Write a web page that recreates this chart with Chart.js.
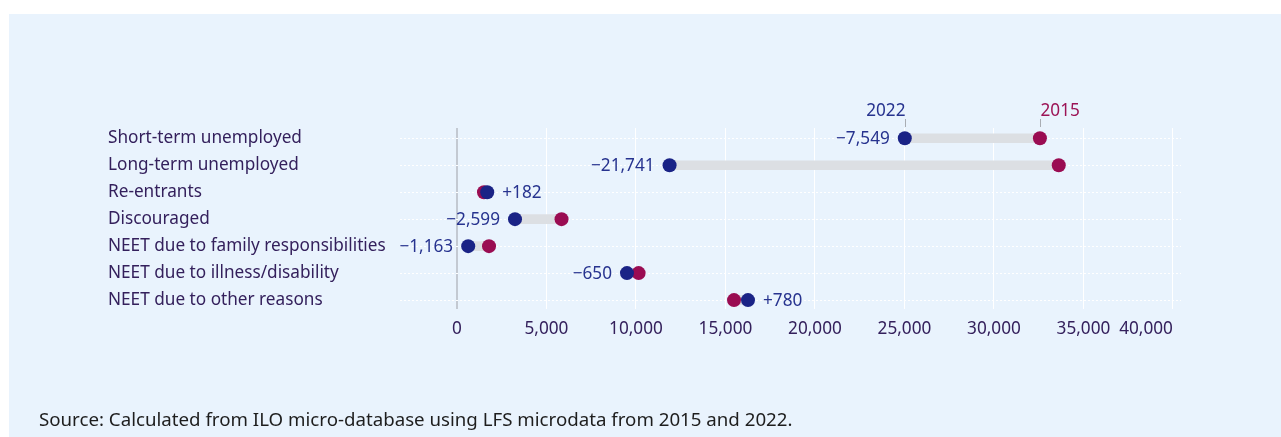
<!DOCTYPE html>
<html>
<head>
<meta charset="utf-8">
<script src="https://cdn.jsdelivr.net/npm/chart.js@4.4.1/dist/chart.umd.min.js"></script>
<style>
  html, body { margin: 0; padding: 0; background: #ffffff; }
  #wrap { position: absolute; left: 9px; top: 14px; width: 1272px; height: 423px; background: #e9f3fd; }
  #chart { position: absolute; left: 0; top: 0; }
  #source { position: absolute; left: 30px; top: 393px; font: 18.7px/24px "Noto Sans"; color: #1e1e1e; white-space: nowrap; }
</style>
</head>
<body>
<div id="wrap">
  <canvas id="chart" width="1272" height="423"></canvas>
  <div id="source">Source: Calculated from ILO micro-database using LFS microdata from 2015 and 2022.</div>
</div>
<script>
const categories = [
  'Short-term unemployed',
  'Long-term unemployed',
  'Re-entrants',
  'Discouraged',
  'NEET due to family responsibilities',
  'NEET due to illness/disability',
  'NEET due to other reasons'
];
const values2015 = [32569, 33621, 1511, 5844, 1793, 10150, 15480];
const values2022 = [25020, 11880, 1693, 3245, 630, 9500, 16260];
const changes = [-7549, -21741, 182, -2599, -1163, -650, 780];
const xTicks = [0, 5000, 10000, 15000, 20000, 25000, 30000, 35000, 40000];

const X_MIN = -3180, X_MAX = 40450;
const labelColor = '#34205c';
const blue = '#1a2386';
const red = '#9a0c52';
const blueText = '#27338f';
const redText = '#9c1456';
const font17 = { family: 'Noto Sans', size: 17.2 };

// change labels next to 2022 dots, plus the year headers above the first row
const annotate = {
  id: 'annotate',
  afterDatasetsDraw(chart) {
    const { ctx, chartArea, scales: { x, y } } = chart;
    ctx.save();
    ctx.font = '17.2px "Noto Sans"';
    ctx.textBaseline = 'middle';
    ctx.fillStyle = blueText;
    changes.forEach((c, i) => {
      const px = x.getPixelForValue(values2022[i]);
      const py = y.getPixelForValue(i);
      const txt = (c > 0 ? '+' : '\u2212') + Math.abs(c).toLocaleString('en-US');
      ctx.textAlign = c > 0 ? 'left' : 'right';
      ctx.fillText(txt, c > 0 ? px + 15 : px - 15, py + 1);
    });

    const top = chartArea.top;
    const heads = [
      [values2022[0], '2022', blueText, 'right'],
      [values2015[0], '2015', redText, 'left']
    ];
    ctx.textBaseline = 'alphabetic';
    heads.forEach(([v, txt, col, align]) => {
      const px = Math.round(x.getPixelForValue(v)) + 0.5;
      ctx.strokeStyle = '#a9adb3';
      ctx.lineWidth = 1;
      ctx.beginPath();
      ctx.moveTo(px, top - 9);
      ctx.lineTo(px, top - 1);
      ctx.stroke();
      ctx.fillStyle = col;
      ctx.textAlign = align;
      ctx.fillText(txt, px, top - 12);
    });
    ctx.restore();
  }
};

new Chart(document.getElementById('chart').getContext('2d'), {
  type: 'bar',
  data: {
    datasets: [
      {
        type: 'line',
        label: '2022',
        data: values2022.map((v, i) => ({ x: v, y: i })),
        showLine: false,
        pointRadius: 7,
        pointHoverRadius: 7,
        pointBorderWidth: 0,
        pointBackgroundColor: blue,
        order: 0
      },
      {
        type: 'line',
        label: '2015',
        data: values2015.map((v, i) => ({ x: v, y: i })),
        showLine: false,
        pointRadius: 7,
        pointHoverRadius: 7,
        pointBorderWidth: 0,
        pointBackgroundColor: red,
        order: 1
      },
      {
        type: 'bar',
        label: 'change',
        data: values2015.map((v, i) => ({ x: [values2022[i], v], y: i })),
        backgroundColor: '#dcdfe3',
        barThickness: 9,
        borderSkipped: false,
        order: 2
      }
    ]
  },
  options: {
    indexAxis: 'y',
    responsive: false,
    animation: false,
    layout: { padding: { left: 99, right: 100, top: 114, bottom: 88 } },
    plugins: { legend: { display: false }, tooltip: { enabled: false } },
    scales: {
      x: {
        type: 'linear',
        min: X_MIN,
        max: X_MAX,
        offset: false,
        afterBuildTicks: s => {
          s.ticks = [{ value: X_MIN }].concat(xTicks.map(v => ({ value: v })));
        },
        afterFit: s => { s.height = 40; },
        grid: {
          offset: false,
          drawTicks: false,
          color: c => c.tick.value === 0 ? '#c3c9d2' : (c.tick.value < 0 ? 'rgba(0,0,0,0)' : '#ffffff'),
          lineWidth: c => c.tick.value === 0 ? 2 : 1
        },
        border: { display: false },
        ticks: {
          autoSkip: false,
          maxRotation: 0,
          align: 'inner',
          padding: 10,
          color: labelColor,
          font: font17,
          callback: v => v < 0 ? '' : v.toLocaleString('en-US')
        }
      },
      y: {
        type: 'linear',
        reverse: true,
        offset: false,
        min: -0.38,
        max: 6.33,
        afterBuildTicks: s => {
          s.ticks = categories.map((c, i) => ({ value: i }));
        },
        afterFit: s => { s.width = 292; },
        grid: { offset: false, drawTicks: false, color: '#ffffff', lineWidth: 1 },
        border: { display: false, dash: [2, 2] },
        ticks: {
          crossAlign: 'far',
          padding: 10,
          color: labelColor,
          font: font17,
          callback: v => categories[v]
        }
      }
    }
  },
  plugins: [annotate]
});
</script>
</body>
</html>
